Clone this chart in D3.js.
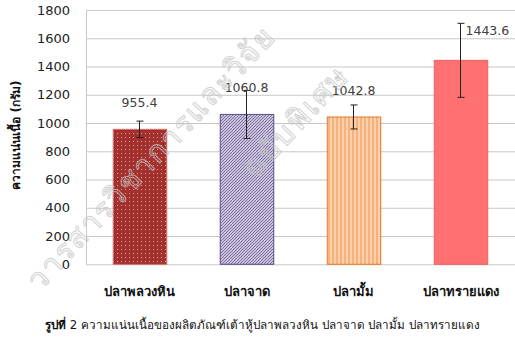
<html>
<head>
<meta charset="utf-8">
<title>firmness</title>
<style>
  body { margin:0; background:#fff; }
  text { font-family: Tahoma, "DejaVu Sans", "Noto Sans", sans-serif; }
  .grid line { stroke:#c8c8c8; stroke-width:1; }
  .grid path { stroke:none; }
  .yAxis path, .yAxis line { stroke:none; }
  .yAxis text { font-size:13px; fill:#222; }
  .xAxis path, .xAxis line { stroke:none; }
  .xAxis text { font-size:13px; font-weight:bold; fill:#111; }
</style>
<script src="https://cdn.jsdelivr.net/npm/d3@7/dist/d3.min.js"></script>
</head>
<body>
<script>
// data
var fish = ["ปลาพลวงหิน", "ปลาจาด", "ปลามั้ม", "ปลาทรายแดง"];
var firmness = [955.4, 1060.8, 1042.8, 1443.6];
var errs = [58, 170, 85, 262];
var yTicks = [0, 200, 400, 600, 800, 1000, 1200, 1400, 1600, 1800];

var width = 515, height = 340;
var margin = {top:10, right:1, bottom:72, left:86};

var svg = d3.select("body").append("svg")
    .attr("width", width).attr("height", height);

var defs = svg.append("defs");
// dots pattern (bar 1)
var p1 = defs.append("pattern").attr("id","dots").attr("patternUnits","userSpaceOnUse")
    .attr("width",4).attr("height",4);
p1.append("rect").attr("width",4).attr("height",4).attr("fill","#a3302d");
p1.append("rect").attr("x",1).attr("y",1).attr("width",1).attr("height",1).attr("fill","#e9a8a4");
// diagonal hatch (bar 2)
var p2 = defs.append("pattern").attr("id","hatch").attr("patternUnits","userSpaceOnUse")
    .attr("width",3).attr("height",3);
p2.append("rect").attr("width",3).attr("height",3).attr("fill","#efebf6");
p2.append("path").attr("d","M-1,1 L1,-1 M0,3 L3,0 M2,4 L4,2").attr("stroke","#7a6aa0").attr("stroke-width",1.2);
// vertical stripes (bar 3)
var p3 = defs.append("pattern").attr("id","stripes").attr("patternUnits","userSpaceOnUse")
    .attr("width",4).attr("height",4);
p3.append("rect").attr("width",4).attr("height",4).attr("fill","#f6b27c");
p3.append("rect").attr("x",2).attr("width",2).attr("height",4).attr("fill","#fcd0aa");

var fills = ["url(#dots)", "url(#hatch)", "url(#stripes)", "#ff7171"];
var strokes = ["#d26a66", "#5d4a85", "#e2792c", "#e86060"];

var x = d3.scaleBand().domain(fish)
    .range([margin.left, width - margin.right]).paddingInner(0.5).paddingOuter(0.25);
var y = d3.scaleLinear().domain([0, 1800])
    .range([height - margin.bottom - 3.7, margin.top]);

// gridlines
svg.append("g").attr("class","grid")
  .attr("transform","translate(" + margin.left + ",0)")
  .call(d3.axisRight(y).tickValues(yTicks).tickSize(width - margin.left).tickFormat(""));
// left border of plot area
svg.append("line").attr("x1", margin.left + 0.5).attr("x2", margin.left + 0.5)
  .attr("y1", y(1800)).attr("y2", y(0)).attr("stroke","#c8c8c8");

// y axis labels
svg.append("g").attr("class","yAxis")
  .attr("transform","translate(" + (margin.left - 10) + ",0)")
  .call(d3.axisLeft(y).tickValues(yTicks).tickSize(0).tickPadding(6).tickFormat(d3.format("d")));

// bars
svg.selectAll(".bar").data(fish).enter().append("rect")
  .attr("class","bar")
  .attr("x", function(d){ return x(d) + 0.5; })
  .attr("y", function(d,i){ return y(firmness[i]); })
  .attr("width", x.bandwidth())
  .attr("height", function(d,i){ return y(0) - y(firmness[i]); })
  .attr("fill", function(d,i){ return fills[i]; })
  .attr("stroke", function(d,i){ return strokes[i]; })
  .attr("stroke-width", 1);

// error bars
var eb = svg.selectAll(".err").data(fish).enter().append("g").attr("class","err")
  .attr("stroke","#222").attr("stroke-width",1);
eb.append("line")
  .attr("x1", function(d){ return x(d) + x.bandwidth()/2; })
  .attr("x2", function(d){ return x(d) + x.bandwidth()/2; })
  .attr("y1", function(d,i){ return y(firmness[i] + errs[i]); })
  .attr("y2", function(d,i){ return y(firmness[i] - errs[i]); });
[1, -1].forEach(function(s){
  eb.append("line")
    .attr("x1", function(d){ return x(d) + x.bandwidth()/2 - 3; })
    .attr("x2", function(d){ return x(d) + x.bandwidth()/2 + 4; })
    .attr("y1", function(d,i){ return y(firmness[i] + s*errs[i]); })
    .attr("y2", function(d,i){ return y(firmness[i] + s*errs[i]); });
});

// value labels
svg.selectAll(".val").data(fish).enter().append("text")
  .attr("class","val")
  .attr("x", function(d,i){ return i == 3 ? x(d) + x.bandwidth()/2 + 5 : x(d) + x.bandwidth()/2; })
  .attr("y", function(d,i){ return i == 3 ? y(firmness[i]) - 25 : y(firmness[i]) - 22; })
  .attr("text-anchor", function(d,i){ return i == 3 ? "start" : "middle"; })
  .attr("font-size","12.5px").attr("fill","#404040")
  .text(function(d,i){ return firmness[i].toFixed(1); });

// x axis labels
svg.append("g").attr("class","xAxis")
  .attr("transform","translate(0," + y(0) + ")")
  .call(d3.axisBottom(x).tickSize(0).tickPadding(22));

// y title
svg.append("text")
  .attr("transform","translate(20,135) rotate(-90)")
  .attr("text-anchor","middle")
  .attr("font-size","12px").attr("font-weight","bold").attr("fill","#111")
  .text("ความแน่นเนื้อ (กรัม)");

// watermark, light outline over the chart
var wm = svg.append("g").attr("fill","none").attr("stroke","#c4c4c4").attr("stroke-width",1)
  .attr("font-size","30px").attr("letter-spacing","2px").attr("opacity",0.75);
wm.append("text").attr("transform","translate(40,292) rotate(-47)")
  .text("วารสารวิชาการและวิจัย");
wm.append("text").attr("transform","translate(255,180) rotate(-47)")
  .text("ฉบับพิเศษ");

// caption
var cap = svg.append("text").attr("x",45).attr("y",329)
  .attr("font-size","11.7px").attr("fill","#111");
cap.append("tspan").attr("font-weight","bold").text("รูปที่");
cap.append("tspan").text(" 2  ความแน่นเนื้อของผลิตภัณฑ์เต้าหู้ปลาพลวงหิน ปลาจาด ปลามั้ม ปลาทรายแดง");
</script>
</body>
</html>
